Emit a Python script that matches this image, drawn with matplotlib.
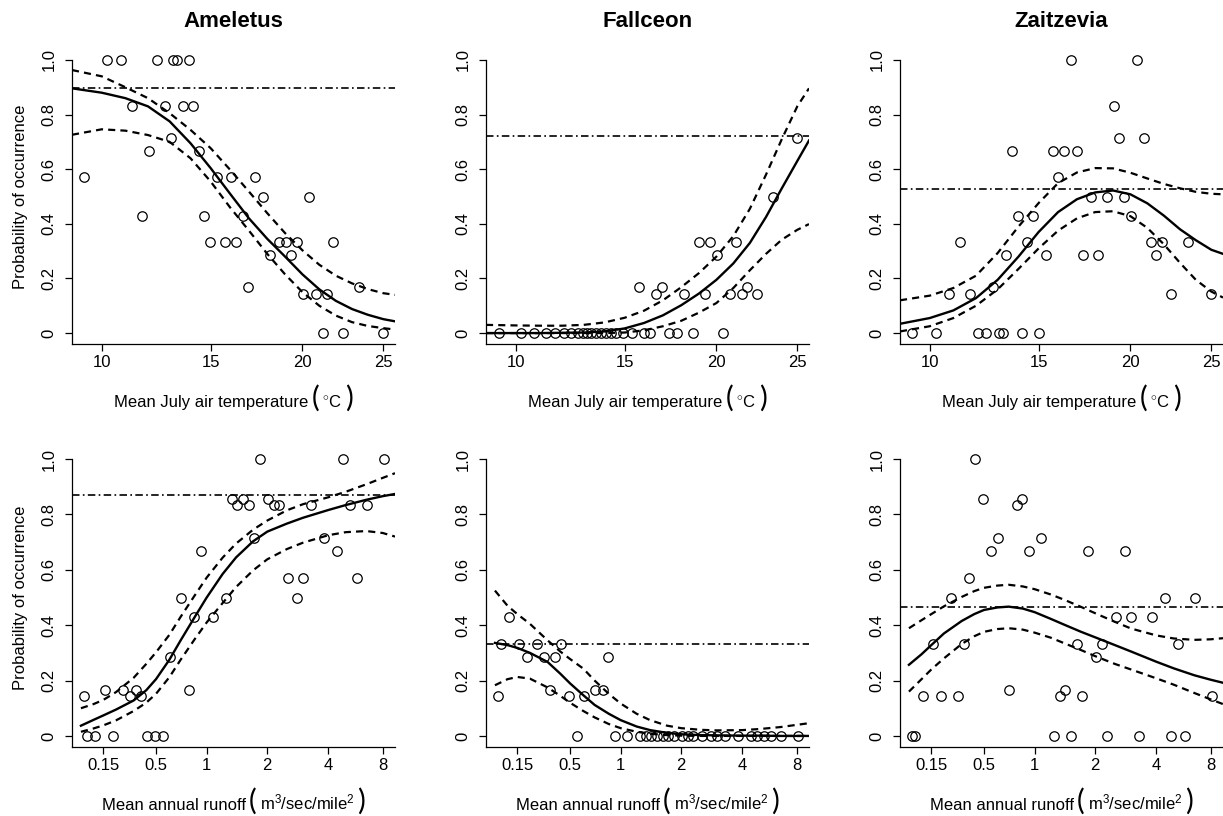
import numpy as np
import matplotlib
matplotlib.use('Agg')
import matplotlib.pyplot as plt
from matplotlib.offsetbox import TextArea, HPacker, AnchoredOffsetbox

plt.rcParams['font.family'] = ['Liberation Sans', 'DejaVu Sans']
plt.rcParams['mathtext.fontset'] = 'custom'
plt.rcParams['mathtext.rm'] = 'Liberation Sans'
plt.rcParams['mathtext.it'] = 'Liberation Sans:italic'

taxa = ['Ameletus', 'Fallceon', 'Zaitzevia']

# ---- top row: mean July air temperature (deg C) ----
amel_temp_x = [10.22, 10.79, 12.41, 13.16, 13.37, 13.93, 9.28, 11.30, 12.78, 13.65, 14.11,
               13.05, 12.06, 14.41, 11.72, 14.68, 15.34, 16.03, 17.35, 17.77, 20.39, 16.67,
               14.99, 15.74, 16.30, 18.64, 19.04, 19.67, 21.85, 18.14, 19.34, 16.97, 23.44,
               20.05, 20.80, 21.48, 21.21, 22.42, 25.00]
amel_temp_y = [1, 1, 1, 1, 1, 1, 0.571, 0.833, 0.833, 0.833, 0.833,
               0.714, 0.667, 0.667, 0.429, 0.429, 0.571, 0.571, 0.571, 0.5, 0.5, 0.429,
               0.333, 0.333, 0.333, 0.333, 0.333, 0.333, 0.333, 0.286, 0.286, 0.167, 0.167,
               0.143, 0.143, 0.143, 0, 0, 0]

fall_temp_x = [9.31, 10.23, 10.78, 11.29, 11.70, 12.08, 12.41, 12.74, 12.97, 13.16, 13.37,
               13.59, 13.83, 14.08, 14.32, 14.57, 14.92, 15.38, 15.98, 16.30, 17.31, 17.77,
               18.66, 20.39, 15.72, 16.95, 21.83, 16.65, 18.17, 19.36, 20.82, 21.53, 22.44,
               19.02, 19.65, 21.18, 20.04, 23.44, 24.99]
fall_temp_y = [0] * 24 + [0.167, 0.167, 0.167, 0.143, 0.143, 0.143, 0.143, 0.143, 0.143,
                          0.333, 0.333, 0.333, 0.286, 0.5, 0.714]

zait_temp_x = [16.68, 20.39, 19.04, 19.32, 20.82, 13.69, 15.74, 16.30, 16.99, 16.02, 17.77,
               18.66, 19.65, 13.96, 14.70, 20.04, 11.30, 14.42, 21.22, 21.87, 23.49, 13.40,
               15.39, 17.35, 18.17, 21.53, 12.80, 10.80, 11.73, 22.44, 24.99, 9.30, 10.26,
               12.08, 12.46, 13.05, 13.24, 14.16, 15.00]
zait_temp_y = [1, 1, 0.833, 0.714, 0.714, 0.667, 0.667, 0.667, 0.667, 0.571, 0.5,
               0.5, 0.5, 0.429, 0.429, 0.429, 0.333, 0.333, 0.333, 0.333, 0.333, 0.286,
               0.286, 0.286, 0.286, 0.286, 0.167, 0.143, 0.143, 0.143, 0.143, 0, 0,
               0, 0, 0, 0, 0, 0]

temp_grid = [8.81, 10, 11, 12, 13, 14, 15, 16, 17, 18, 19, 20, 21, 22, 23, 24, 25, 25.77]
amel_temp_fit = [0.896, 0.88, 0.86, 0.83, 0.775, 0.695, 0.604, 0.51, 0.42, 0.345, 0.28, 0.215,
                 0.16, 0.118, 0.088, 0.067, 0.051, 0.043]
amel_temp_up = [0.963, 0.94, 0.9, 0.86, 0.805, 0.744, 0.677, 0.598, 0.518, 0.439, 0.366, 0.303,
                0.25, 0.21, 0.182, 0.161, 0.146, 0.14]
amel_temp_lo = [0.726, 0.746, 0.741, 0.725, 0.70, 0.64, 0.555, 0.46, 0.375, 0.29, 0.215, 0.15,
                0.10, 0.064, 0.04, 0.026, 0.018, 0.013]
fall_temp_fit = [0.0, 0.0, 0.0, 0.001, 0.002, 0.006, 0.017, 0.037, 0.065, 0.102, 0.145, 0.195,
                 0.255, 0.33, 0.425, 0.53, 0.63, 0.705]
fall_temp_up = [0.03, 0.028, 0.027, 0.027, 0.03, 0.039, 0.056, 0.082, 0.12, 0.168, 0.22, 0.28,
                0.355, 0.455, 0.58, 0.71, 0.83, 0.896]
fall_temp_lo = [0.0, 0.0, 0.0, 0.0, 0.0, 0.0, 0.002, 0.01, 0.025, 0.045, 0.075, 0.11,
                0.165, 0.23, 0.29, 0.342, 0.378, 0.399]
zait_temp_fit = [0.034, 0.055, 0.083, 0.128, 0.195, 0.28, 0.37, 0.443, 0.49, 0.515, 0.522, 0.508,
                 0.475, 0.43, 0.38, 0.34, 0.305, 0.29]
zait_temp_up = [0.12, 0.137, 0.165, 0.21, 0.293, 0.39, 0.476, 0.549, 0.588, 0.604, 0.603, 0.587,
                0.566, 0.546, 0.53, 0.517, 0.51, 0.508]
zait_temp_lo = [0.006, 0.025, 0.055, 0.1, 0.16, 0.235, 0.31, 0.375, 0.42, 0.443, 0.446, 0.428,
                0.385, 0.325, 0.257, 0.195, 0.152, 0.13]
temp_base = [0.896, 0.72, 0.528]

# ---- bottom row: mean annual runoff (m3/sec/mile2) ----
amel_run_x = [1.84, 4.84, 8.16, 1.33, 1.52, 2.02, 1.42, 1.62, 2.17, 2.29, 3.29, 5.27, 6.57,
              1.72, 3.83, 0.925, 4.45, 2.54, 3.01, 5.79, 0.704, 2.79, 1.24, 0.84, 1.07,
              0.605, 0.156, 0.237, 0.314, 0.78, 0.0965, 0.276, 0.353,
              0.104, 0.124, 0.189, 0.404, 0.489, 0.553]
amel_run_y = [1, 1, 1, 0.857, 0.857, 0.857, 0.833, 0.833, 0.833, 0.833, 0.833, 0.833, 0.833,
              0.714, 0.714, 0.667, 0.667, 0.571, 0.571, 0.571, 0.5, 0.5, 0.5, 0.429, 0.429,
              0.286, 0.167, 0.167, 0.167, 0.167, 0.143, 0.143, 0.143,
              0, 0, 0, 0, 0, 0]

fall_run_x = [0.124, 0.104, 0.156, 0.237, 0.404, 0.189, 0.276, 0.353, 0.84, 0.314, 0.704, 0.78,
              0.0965, 0.489, 0.605,
              0.553, 0.925, 1.07, 1.24, 1.33, 1.42, 1.52, 1.62, 1.72, 1.84, 2.02, 2.17, 2.29,
              2.54, 2.79, 3.01, 3.29, 3.83, 4.45, 4.84, 5.27, 5.79, 6.57, 8.16]
fall_run_y = [0.429, 0.333, 0.333, 0.333, 0.333, 0.286, 0.286, 0.286, 0.286, 0.167, 0.167, 0.167,
              0.143, 0.143, 0.143] + [0] * 24

zait_run_x = [0.404, 0.489, 0.84, 0.78, 0.605, 1.07, 0.553, 0.925, 1.84, 2.79, 0.353, 0.237,
              4.45, 6.57, 2.54, 3.01, 3.83, 0.156, 0.314, 1.62, 2.17, 5.27, 2.02, 0.704, 1.42,
              0.124, 0.189, 0.276, 1.33, 1.72, 8.16,
              0.0965, 0.104, 1.24, 1.52, 2.29, 3.29, 4.84, 5.79]
zait_run_y = [1, 0.857, 0.857, 0.833, 0.714, 0.714, 0.667, 0.667, 0.667, 0.667, 0.571, 0.5,
              0.5, 0.5, 0.429, 0.429, 0.429, 0.333, 0.333, 0.333, 0.333, 0.333, 0.286, 0.167, 0.167,
              0.143, 0.143, 0.143, 0.143, 0.143, 0.143,
              0, 0, 0, 0, 0, 0, 0, 0]

run_grid = [0.09, 0.12, 0.15, 0.2, 0.3, 0.4, 0.5, 0.6, 0.7, 0.85, 1, 1.2, 1.4, 1.7, 2, 2.5, 3,
            4, 5, 6.5, 8, 9.36]
amel_run_fit = [0.037, 0.058, 0.074, 0.095, 0.128, 0.165, 0.205, 0.275, 0.345, 0.43, 0.5, 0.585,
                0.645, 0.703, 0.738, 0.767, 0.788, 0.816, 0.834, 0.853, 0.866, 0.874]
amel_run_up = [0.1, 0.115, 0.13, 0.158, 0.21, 0.26, 0.302, 0.365, 0.43, 0.508, 0.572, 0.644,
               0.695, 0.745, 0.778, 0.815, 0.837, 0.862, 0.882, 0.909, 0.932, 0.949]
amel_run_lo = [0.015, 0.027, 0.038, 0.056, 0.09, 0.12, 0.152, 0.212, 0.275, 0.35, 0.41, 0.48,
               0.538, 0.598, 0.638, 0.675, 0.698, 0.725, 0.736, 0.74, 0.733, 0.72]
fall_run_fit = [0.336, 0.328, 0.318, 0.3, 0.267, 0.225, 0.19, 0.147, 0.112, 0.08, 0.057, 0.034,
                0.021, 0.011, 0.006, 0.003, 0.002, 0.001, 0.001, 0.0, 0.0, 0.0]
fall_run_up = [0.525, 0.47, 0.44, 0.405, 0.345, 0.305, 0.278, 0.243, 0.2, 0.152, 0.117, 0.08,
               0.057, 0.037, 0.028, 0.022, 0.02, 0.021, 0.025, 0.032, 0.04, 0.046]
fall_run_lo = [0.183, 0.205, 0.213, 0.207, 0.175, 0.145, 0.12, 0.09, 0.067, 0.043, 0.028, 0.015,
               0.008, 0.003, 0.001, 0.0, 0.0, 0.0, 0.0, 0.0, 0.0, 0.0]
zait_run_fit = [0.257, 0.295, 0.328, 0.37, 0.415, 0.44, 0.455, 0.464, 0.467, 0.46, 0.447, 0.423,
                0.402, 0.376, 0.356, 0.328, 0.305, 0.268, 0.244, 0.219, 0.203, 0.192]
zait_run_up = [0.389, 0.418, 0.44, 0.468, 0.502, 0.523, 0.535, 0.543, 0.546, 0.54, 0.53, 0.511,
               0.492, 0.466, 0.443, 0.412, 0.388, 0.363, 0.352, 0.347, 0.349, 0.353]
zait_run_lo = [0.16, 0.205, 0.24, 0.28, 0.332, 0.36, 0.376, 0.386, 0.389, 0.384, 0.373, 0.355,
               0.335, 0.31, 0.288, 0.26, 0.24, 0.208, 0.185, 0.155, 0.132, 0.115]
run_base = [0.871, 0.333, 0.467]

temp_ticks = [10, 15, 20, 25]
run_ticks = [0.15, 0.5, 1, 2, 4, 8]
run_tick_labels = ['0.15', '0.5', '1', '2', '4', '8']
prob_ticks = [0, 0.2, 0.4, 0.6, 0.8, 1.0]
prob_labels = ['0', '0.2', '0.4', '0.6', '0.8', '1.0']

# runoff axis: piecewise log spacing as printed on the original axis
run_axis_pos = np.array([31.3, 84.0, 134.7, 195.3, 256.3, 310.7])
run_axis_len = 323.0
log_run_ticks = np.log(run_ticks)


def _interp_ext(v, xp, fp):
    v = np.asarray(v, dtype=float)
    shape = v.shape
    v = np.atleast_1d(v).ravel()
    out = np.interp(v, xp, fp)
    lo = v < xp[0]
    hi = v > xp[-1]
    out[lo] = fp[0] + (v[lo] - xp[0]) * (fp[1] - fp[0]) / (xp[1] - xp[0])
    out[hi] = fp[-1] + (v[hi] - xp[-1]) * (fp[-1] - fp[-2]) / (xp[-1] - xp[-2])
    return out.reshape(shape)


def run_fwd(x):
    x = np.clip(np.asarray(x, dtype=float), 1e-6, None)
    return _interp_ext(np.log(x), log_run_ticks, run_axis_pos)


def run_inv(u):
    return np.exp(_interp_ext(u, run_axis_pos, log_run_ticks))


def sqrt_fwd(x):
    return np.sqrt(np.clip(np.asarray(x, dtype=float), 0, None))


def sqrt_inv(x):
    return np.square(x)


dash = (0, (3.2, 2.3))
dashdot = (0, (4.5, 2.0, 1.0, 2.0))


def draw_panel(ax, x, y, grid, fit, up, lo, base):
    ax.axhline(base, color='black', lw=1.2, ls=dashdot)
    ax.plot(grid, up, color='black', lw=1.6, ls=dash)
    ax.plot(grid, lo, color='black', lw=1.6, ls=dash)
    ax.plot(grid, fit, color='black', lw=1.7)
    ax.plot(x, y, 'o', mfc='none', mec='black', ms=6.8, mew=0.9, clip_on=False)
    ax.set_ylim(-0.04, 1.04)
    ax.set_yticks(prob_ticks)
    ax.set_yticklabels(prob_labels, rotation=90, va='center')
    for s in ['top', 'right']:
        ax.spines[s].set_visible(False)
    ax.spines['left'].set_bounds(-0.04, 1.0)
    for s in ['left', 'bottom']:
        ax.spines[s].set_linewidth(0.9)
    ax.tick_params(direction='out', length=5, width=0.9, labelsize=12, colors='black')
    ax.tick_params(axis='y', pad=6)
    ax.tick_params(axis='x', pad=3)


def bracket_label(ax, words, inner, y):
    # axis title with tall thin brackets, like R plotmath bgroup("(", ..., ")")
    paren = dict(fontsize=21, family='Lato', weight='normal')
    parts = [TextArea(words, textprops=dict(fontsize=12)),
             TextArea('(', textprops=paren),
             TextArea(inner, textprops=dict(fontsize=12)),
             TextArea(')', textprops=paren)]
    box = HPacker(children=parts, align='baseline', pad=0, sep=2)
    parts_box = AnchoredOffsetbox(loc='upper center', child=box, pad=0, borderpad=0,
                                  frameon=False, bbox_to_anchor=(0.5, y),
                                  bbox_transform=ax.transAxes)
    ax.add_artist(parts_box)


fig = plt.figure(figsize=(12.23, 8.16), dpi=100)
lefts = [72 / 1223, 486 / 1223, 900 / 1223]
w = 323 / 1223
top_row = [(816 - 344) / 816, 295 / 816]
bot_row = [(816 - 747) / 816, 299 / 816]

temp_sets = [
    (amel_temp_x, amel_temp_y, amel_temp_fit, amel_temp_up, amel_temp_lo),
    (fall_temp_x, fall_temp_y, fall_temp_fit, fall_temp_up, fall_temp_lo),
    (zait_temp_x, zait_temp_y, zait_temp_fit, zait_temp_up, zait_temp_lo),
]
run_sets = [
    (amel_run_x, amel_run_y, amel_run_fit, amel_run_up, amel_run_lo),
    (fall_run_x, fall_run_y, fall_run_fit, fall_run_up, fall_run_lo),
    (zait_run_x, zait_run_y, zait_run_fit, zait_run_up, zait_run_lo),
]

for i in range(3):
    ax = fig.add_axes([lefts[i], top_row[0], w, top_row[1]])
    ax.set_xscale('function', functions=(sqrt_fwd, sqrt_inv))
    x, y, fit, up, lo = temp_sets[i]
    draw_panel(ax, x, y, temp_grid, fit, up, lo, temp_base[i])
    ax.set_xlim(8.81, 25.77)
    ax.set_xticks(temp_ticks)
    ax.set_xticklabels([str(t) for t in temp_ticks])
    ax.minorticks_off()
    bracket_label(ax, 'Mean July air temperature', r'${}^{\circ}$C', -0.138)
    ax.set_title(taxa[i], fontsize=16, fontweight='bold', pad=16)
    if i == 0:
        ax.set_ylabel('Probability of occurrence', fontsize=12)
        ax.yaxis.set_label_coords(-0.135, 0.5)

    ax = fig.add_axes([lefts[i], bot_row[0], w, bot_row[1]])
    ax.set_xscale('function', functions=(run_fwd, run_inv))
    x, y, fit, up, lo = run_sets[i]
    draw_panel(ax, x, y, run_grid, fit, up, lo, run_base[i])
    ax.set_xlim(float(run_inv(0.0)), float(run_inv(run_axis_len)))
    ax.set_xticks(run_ticks)
    ax.set_xticklabels(run_tick_labels)
    ax.minorticks_off()
    bracket_label(ax, 'Mean annual runoff', r'm$^{3}$/sec/mile$^{2}$', -0.136)
    if i == 0:
        ax.set_ylabel('Probability of occurrence', fontsize=12)
        ax.yaxis.set_label_coords(-0.135, 0.5)

fig.savefig('out.png', dpi=100)
